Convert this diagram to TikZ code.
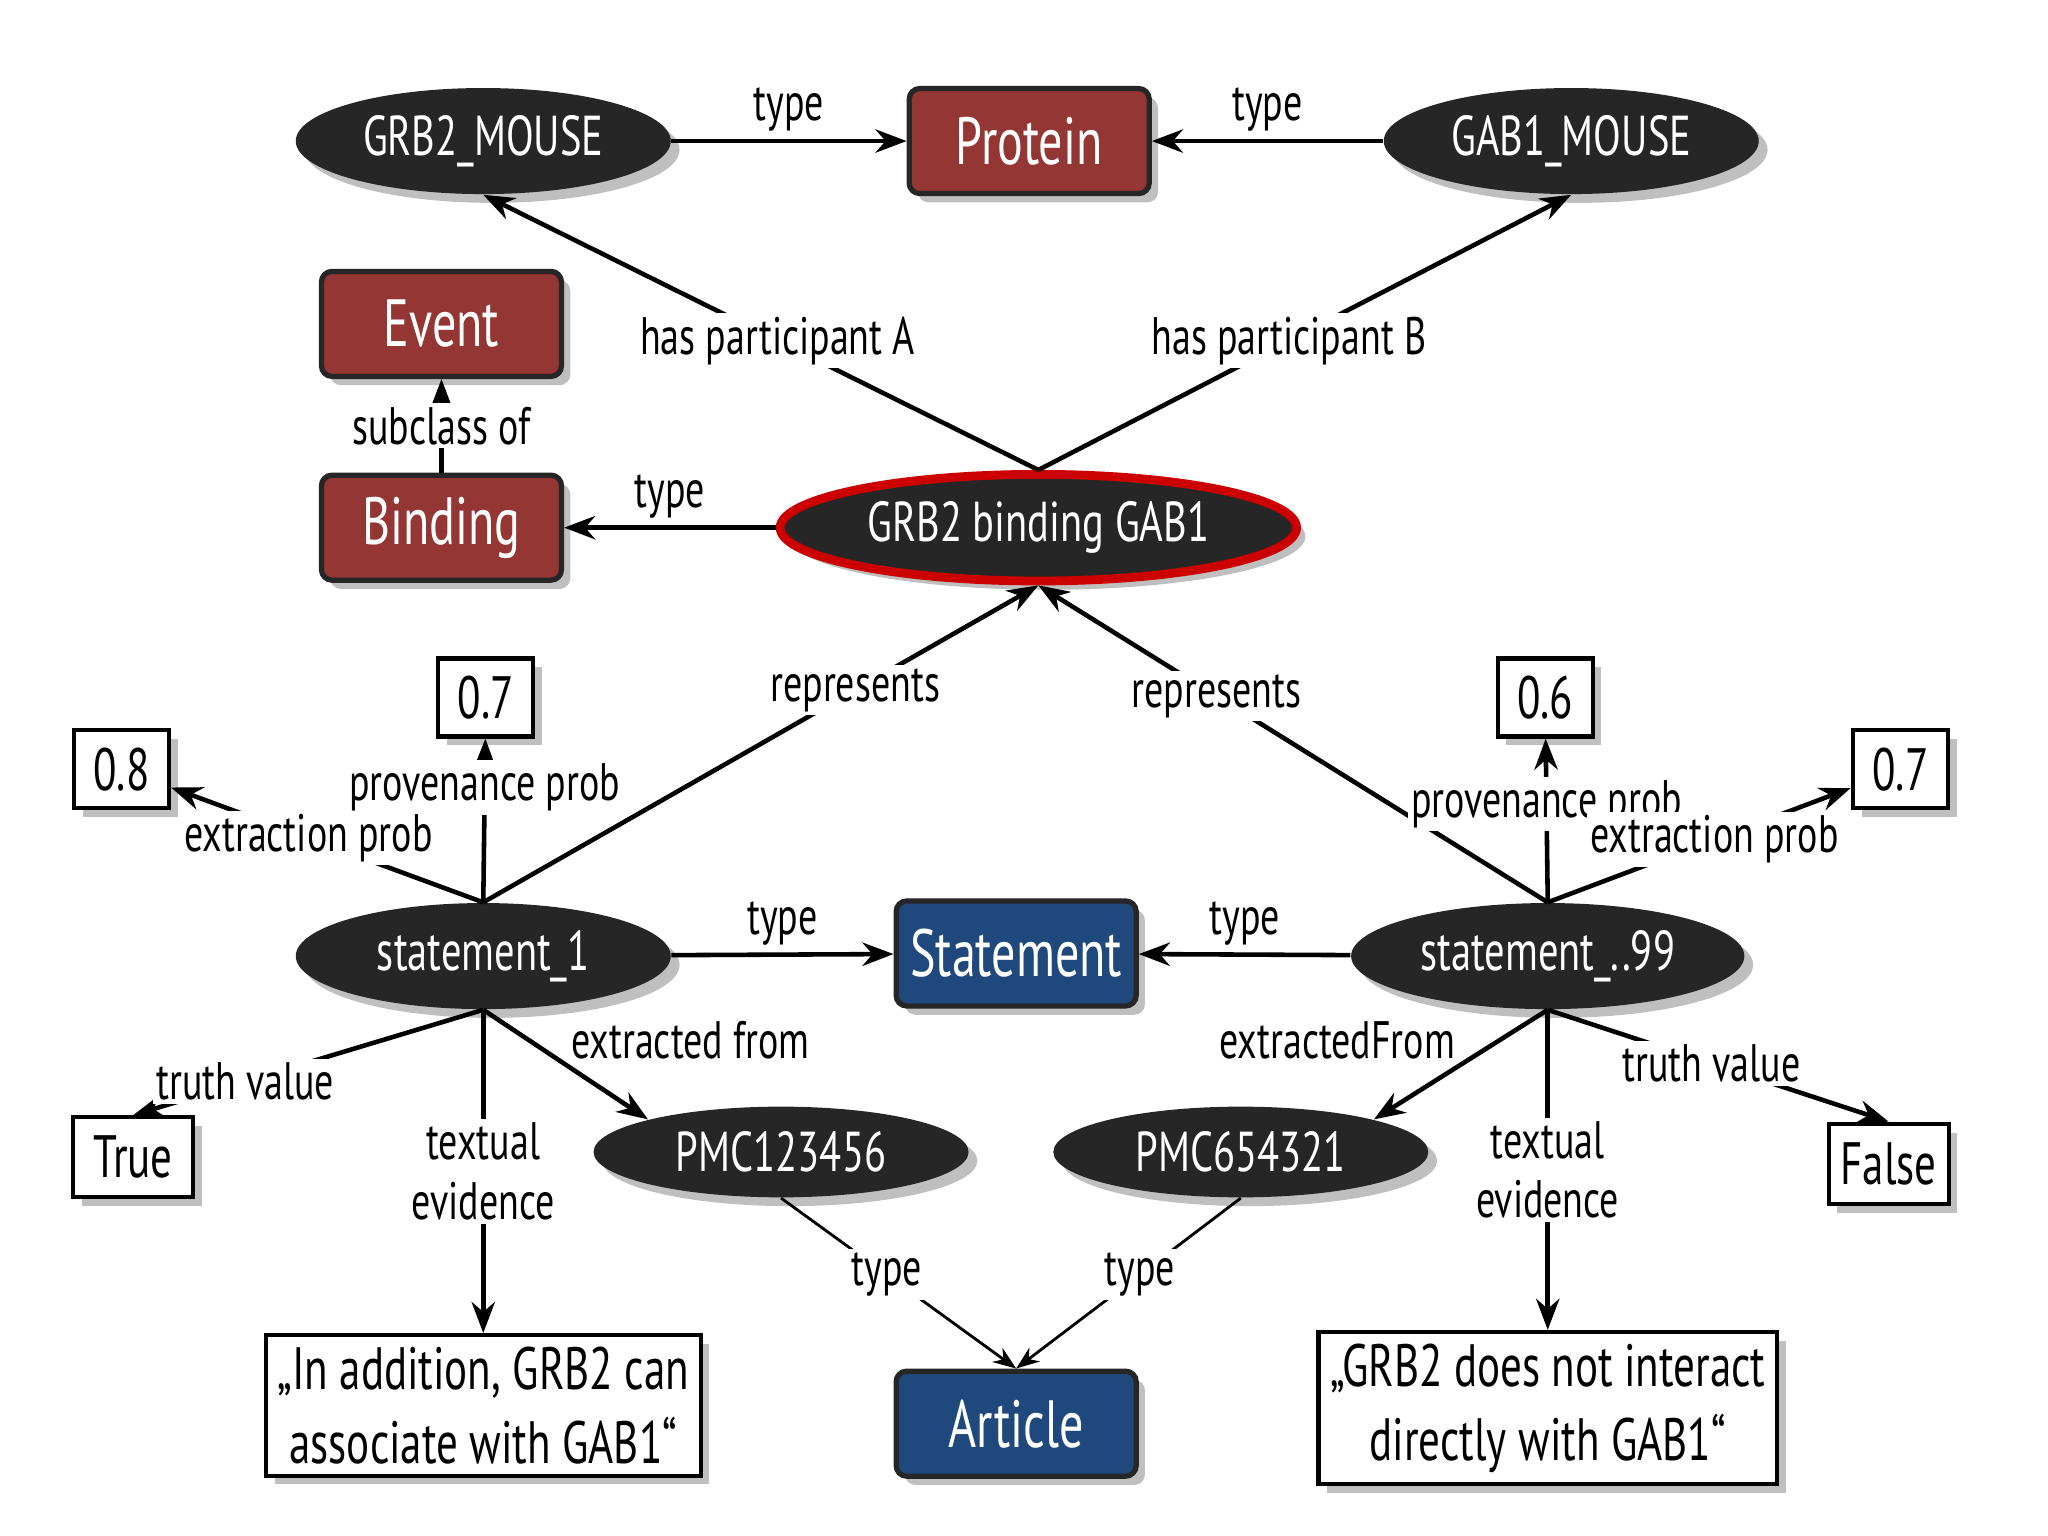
\documentclass[tikz,border=0pt]{standalone}
\usepackage{fontspec}
\setmainfont{PT Sans}[FakeStretch=0.72]
\usetikzlibrary{shapes.geometric,shadows,arrows.meta}
\definecolor{nodedark}{HTML}{262626}
\definecolor{classred}{HTML}{943634}
\definecolor{classblue}{HTML}{1F497D}
\tikzset{
  inst/.style={ellipse,fill=nodedark,text=white,minimum width=3.75cm,minimum height=0.8cm,drop shadow,font=\fontsize{16}{18}\selectfont},
  cls/.style={rectangle,rounded corners=3pt,draw=black!85,line width=1.5pt,text=white,minimum width=2.4cm,minimum height=1.05cm,drop shadow,font=\fontsize{19}{21}\selectfont},
  val/.style={rectangle,draw=black,line width=1.2pt,fill=white,drop shadow,font=\fontsize{17}{21}\selectfont},
  rel/.style={-Stealth,line width=1.3pt},
  lbl/.style={fill=white,inner sep=1pt,font=\fontsize{15}{17}\selectfont}
}
\begin{document}
\begin{tikzpicture}[x=0.01306cm,y=-0.01306cm]
  \useasboundingbox (0,0) rectangle (1568,1176);
  % top row
  \node[inst] (grbm) at (370,108) {GRB2\_MOUSE};
  \node[cls,fill=classred] (protein) at (788,108) {Protein};
  \node[inst] (gabm) at (1203,108) {GAB1\_MOUSE};
  \node[cls,fill=classred] (event) at (338,248) {Event};
  \node[cls,fill=classred] (binding) at (338,404) {Binding};
  \node[inst,draw=red!80!black,line width=2.5pt,minimum width=5cm,minimum height=0.95cm] (gb) at (795,404) {GRB2 binding GAB1};
  % statements
  \node[inst] (st1) at (370,732) {statement\_1};
  \node[cls,fill=classblue] (stmt) at (778,730) {Statement};
  \node[inst] (st99) at (1185,732) {statement\_..99};
  % values
  \node[val,minimum width=0.95cm,minimum height=0.78cm] (pa) at (372,534) {0.7};
  \node[val,minimum width=0.95cm,minimum height=0.78cm] (ea) at (93,589) {0.8};
  \node[val,minimum width=0.95cm,minimum height=0.78cm] (pb) at (1183,534) {0.6};
  \node[val,minimum width=0.95cm,minimum height=0.78cm] (eb) at (1455,589) {0.7};
  \node[val,minimum width=1.2cm,minimum height=0.8cm] (tv) at (102,886) {True};
  \node[val,minimum width=1.2cm,minimum height=0.8cm] (fv) at (1446,891) {False};
  % articles
  \node[inst] (pmca) at (598,882) {PMC123456};
  \node[inst] (pmcb) at (950,882) {PMC654321};
  \node[cls,fill=classblue] (article) at (778,1090) {Article};
  \node[val,minimum width=3.8cm,minimum height=1.35cm,align=center] (txa) at (370,1076) {„In addition, GRB2 can\\associate with GAB1“};
  \node[val,minimum width=3.95cm,minimum height=1.35cm,align=center] (txb) at (1185,1078) {„GRB2 does not interact\\directly with GAB1“};
  % connectors
  \draw[rel] (grbm) -- node[lbl,above=1pt,fill=none] {type} (protein);
  \draw[rel] (gabm) -- node[lbl,above=1pt,fill=none] {type} (protein);
  \draw[rel] (gb.north) -- node[lbl,pos=0.47] {has participant A} (grbm.south);
  \draw[rel] (gb.north) -- node[lbl,pos=0.47] {has participant B} (gabm.south);
  \draw[rel] (binding) -- node[lbl] {subclass of} (event);
  \draw[rel] (gb) -- node[lbl,above=1pt,fill=none] {type} (binding);
  \draw[rel] (st1.north) -- node[lbl,pos=0.67] {represents} (gb.south);
  \draw[rel] (st99.north) -- node[lbl,pos=0.65] {represents} (gb.south);
  \draw[rel] (st1.north) -- node[lbl,pos=0.7] {provenance prob} (pa);
  \draw[rel] (st1.north) -- node[lbl,pos=0.56] {extraction prob} (ea);
  \draw[rel] (st99.north) -- node[lbl,pos=0.6] {provenance prob} (pb);
  \draw[rel] (st99.north) -- node[lbl,pos=0.55] {extraction prob} (eb);
  \draw[rel] (st1) -- node[lbl,above=1pt,fill=none] {type} (stmt);
  \draw[rel] (st99) -- node[lbl,above=1pt,fill=none] {type} (stmt);
  \draw[rel] (st1.south) -- node[lbl,pos=0.68] {truth value} (tv.north);
  \draw[rel] (st99.south) -- node[lbl,pos=0.48] {truth value} (fv.north);
  \draw[rel] (st1.south) -- node[lbl,pos=0.5,align=center] {textual\\evidence} (txa);
  \draw[rel] (st99.south) -- node[lbl,pos=0.5,align=center] {textual\\evidence} (txb);
  \draw[rel] (st1.south) -- node[lbl,pos=0.5,anchor=south west,fill=none] {extracted from} (pmca.north west);
  \draw[rel] (st99.south) -- node[lbl,pos=0.5,anchor=south east,fill=none] {extractedFrom} (pmcb.north east);
  \draw[-Stealth,line width=0.8pt] (pmca.south) -- node[lbl,pos=0.45] {type} (article.north);
  \draw[-Stealth,line width=0.8pt] (pmcb.south) -- node[lbl,pos=0.45] {type} (article.north);
\end{tikzpicture}
\end{document}
